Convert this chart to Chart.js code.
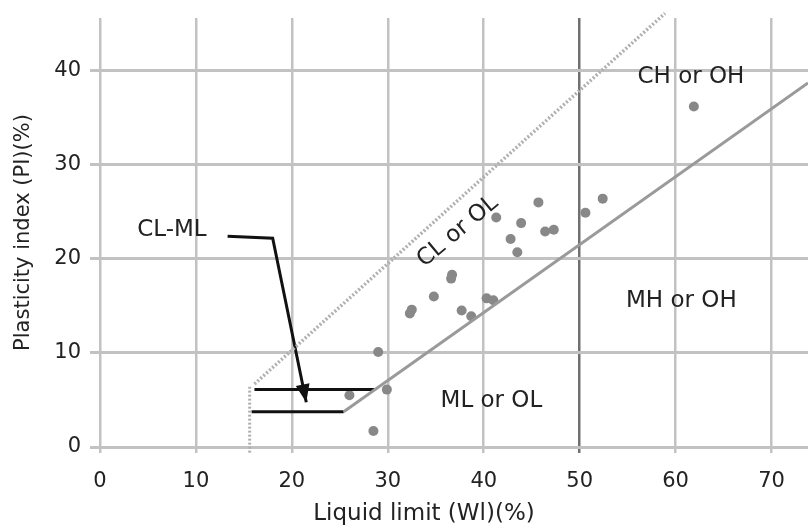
<!DOCTYPE html>
<html>
<head>
<meta charset="utf-8">
<title>Plasticity chart</title>
<script src="https://cdn.jsdelivr.net/npm/chart.js@4/dist/chart.umd.min.js"></script>
<style>
    body { margin: 0; background: #fff; }
    #plasticityChart { display: block; }
</style>
</head>
<body>
<canvas id="plasticityChart" width="808" height="528"></canvas>
<script>
// Samples: liquid limit (x) and plasticity index (y)
const sampleLL = [61.9, 29.0, 29.9, 26.0, 28.5, 41.3, 45.7, 43.9, 42.8, 43.5, 46.4, 47.3,
                  50.6, 52.4, 36.7, 36.6, 34.8, 32.5, 32.3, 37.7, 38.7, 40.3, 41.0];
const samplePI = [36.2, 10.1, 6.1, 5.5, 1.7, 24.4, 26.0, 23.8, 22.1, 20.7, 22.9, 23.1,
                  24.9, 26.4, 18.3, 17.9, 16.0, 14.6, 14.2, 14.5, 13.9, 15.8, 15.6];

// Classification lines
const aLineX = [25.4, 73.8];
const aLineY = [3.75, 38.7];
const uLineX = [16.1, 58.9];
const uLineY = [6.7, 46.1];
const uDropX = [15.6, 15.6];
const uDropY = [-0.6, 6.4];
const upperBarX = [16.1, 28.6];
const upperBarY = [6.1, 6.1];
const lowerBarX = [15.8, 25.4];
const lowerBarY = [3.75, 3.75];
const arrowX = [13.3, 18.0, 21.5];
const arrowY = [22.4, 22.2, 4.75];

// Zone labels
const zoneText = ['CL-ML', 'CH or OH', 'CL or OL', 'MH or OH', 'ML or OL'];
const zoneX = [7.5, 61.6, 37.3, 60.6, 40.8];
const zoneY = [23.1, 39.3, 22.9, 15.5, 4.9];
const zoneAngle = [0, 0, -40, 0, 0];

// Axes
const xTicks = [0, 10, 20, 30, 40, 50, 60, 70];
const yTicks = [0, 10, 20, 30, 40];
const xTitle = 'Liquid limit (Wl)(%)';
const yTitle = 'Plasticity index (PI)(%)';

const FONT = 'DejaVu Sans';
const TEXT = '#222';
const GRID = '#c2c2c2';

function toPoints(xs, ys) {
    return xs.map((v, i) => ({ x: v, y: ys[i] }));
}

function lineSet(xs, ys, color, width, dash, clip) {
    return {
        data: toPoints(xs, ys),
        showLine: true,
        borderColor: color,
        borderWidth: width,
        borderDash: dash || [],
        pointRadius: 0,
        clip: clip === false ? false : undefined
    };
}

/**
 * Draws the zone labels, the arrow head and both axis titles
 */
const annotationPlugin = {
    id: 'annotations',
    afterDatasetsDraw(chart) {
        const { ctx, scales: { x, y }, chartArea } = chart;
        ctx.save();
        ctx.fillStyle = TEXT;
        ctx.font = `23px "${FONT}"`;
        ctx.textAlign = 'center';
        ctx.textBaseline = 'middle';
        zoneText.forEach((t, i) => {
            ctx.save();
            ctx.translate(x.getPixelForValue(zoneX[i]), y.getPixelForValue(zoneY[i]));
            ctx.rotate(zoneAngle[i] * Math.PI / 180);
            ctx.fillText(t, 0, 0);
            ctx.restore();
        });

        // Arrow head at the end of the CL-ML pointer
        const n = arrowX.length;
        const x1 = x.getPixelForValue(arrowX[n - 2]);
        const y1 = y.getPixelForValue(arrowY[n - 2]);
        const x2 = x.getPixelForValue(arrowX[n - 1]);
        const y2 = y.getPixelForValue(arrowY[n - 1]);
        const a = Math.atan2(y2 - y1, x2 - x1);
        ctx.fillStyle = '#111';
        ctx.beginPath();
        ctx.moveTo(x2, y2);
        ctx.lineTo(x2 - 18 * Math.cos(a) + 7 * Math.sin(a), y2 - 18 * Math.sin(a) - 7 * Math.cos(a));
        ctx.lineTo(x2 - 18 * Math.cos(a) - 7 * Math.sin(a), y2 - 18 * Math.sin(a) + 7 * Math.cos(a));
        ctx.closePath();
        ctx.fill();

        // X axis title (sits a little left of the plot centre in the original)
        ctx.fillStyle = TEXT;
        ctx.font = `23px "${FONT}"`;
        ctx.fillText(xTitle, 424, 514);

        // Y axis title
        ctx.font = `21px "${FONT}"`;
        ctx.translate(24, (chartArea.top + chartArea.bottom) / 2);
        ctx.rotate(-Math.PI / 2);
        ctx.fillText(yTitle, 0, 0);
        ctx.restore();
    }
};

const ctx = document.getElementById('plasticityChart').getContext('2d');

new Chart(ctx, {
    type: 'scatter',
    data: {
        datasets: [
            lineSet(uLineX, uLineY, '#b0b0b0', 3.5, [2, 2], false),
            lineSet(uDropX, uDropY, '#b0b0b0', 3, [2, 2], false),
            lineSet(aLineX, aLineY, '#9a9a9a', 3),
            lineSet(upperBarX, upperBarY, '#111', 3),
            lineSet(lowerBarX, lowerBarY, '#111', 3),
            lineSet(arrowX, arrowY, '#111', 3),
            {
                data: toPoints(sampleLL, samplePI),
                backgroundColor: '#888',
                borderWidth: 0,
                pointRadius: 5
            }
        ]
    },
    options: {
        responsive: false,
        animation: false,
        layout: { autoPadding: false, padding: { top: 18, right: 0, bottom: 0, left: 0 } },
        plugins: {
            legend: { display: false },
            tooltip: { enabled: false }
        },
        scales: {
            x: {
                type: 'linear',
                min: 0,
                max: 73.8,
                afterBuildTicks: scale => { scale.ticks = xTicks.map(v => ({ value: v })); },
                afterFit: scale => {
                    scale.height = 81;
                    scale.paddingLeft = 0;
                    scale.paddingRight = 0;
                },
                border: { display: false },
                grid: {
                    color: c => (c.tick && c.tick.value === 50 ? '#707070' : GRID),
                    lineWidth: 2.5,
                    tickLength: 6
                },
                ticks: {
                    font: { family: FONT, size: 21 },
                    color: TEXT,
                    padding: 16,
                    maxRotation: 0
                }
            },
            y: {
                type: 'linear',
                min: 0,
                max: 45.6,
                afterBuildTicks: scale => { scale.ticks = yTicks.map(v => ({ value: v })); },
                afterFit: scale => {
                    scale.width = 100;
                    scale.paddingTop = 0;
                    scale.paddingBottom = 0;
                },
                border: { display: false },
                grid: {
                    color: GRID,
                    lineWidth: 3,
                    tickLength: 10
                },
                ticks: {
                    font: { family: FONT, size: 21 },
                    color: TEXT,
                    padding: 9
                }
            }
        }
    },
    plugins: [annotationPlugin]
});
</script>
</body>
</html>
